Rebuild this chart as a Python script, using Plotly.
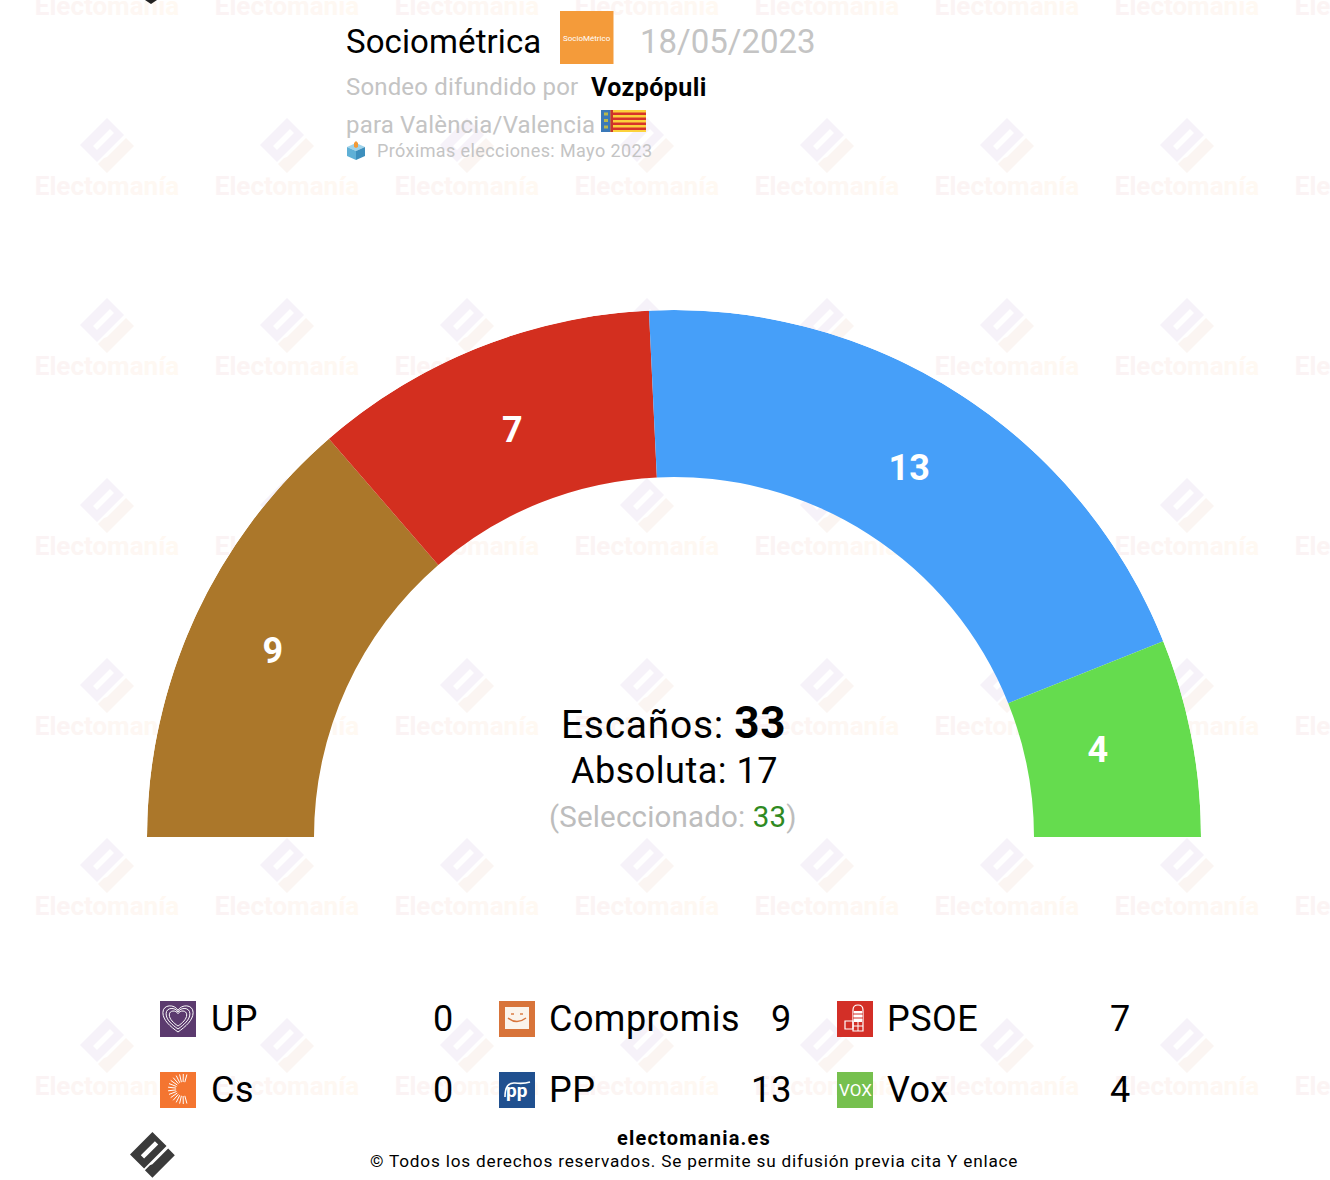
import math
import numpy as np
import plotly.graph_objects as go

# Seats per party
parties = ["UP", "Compromis", "PSOE", "Cs", "PP", "Vox"]
seats = [0, 9, 7, 0, 13, 4]
colors = ["#5b3a6e", "#ab772a", "#d32f1f", "#f47530", "#469ff9", "#65dc4e"]
logo_colors = ["#5b3a6e", "#d8743a", "#d32f27", "#f47530", "#20508f", "#76c04e"]

pollster = "Sociométrica"
poll_date = "18/05/2023"
media = "Vozpópuli"
region = "València/Valencia"
next_vote = "Próximas elecciones: Mayo 2023"
total_seats = 33
majority = 17
selected = 33

FONT = "Roboto"
R_IN = 360
R_OUT = 527
LABEL_R = [441, 435, 435, 432]
LABEL_SHIFT = [0, 0, 0, -0.3]

# Arc geometry comes from the seats
vals = np.array(seats, dtype=float)
widths = vals / vals.sum() * 180
starts = np.concatenate(([0], np.cumsum(widths)[:-1]))
mids = starts + widths / 2
shown = vals > 0

fig = go.Figure()

# Watermark text sits on a page-sized pixel axis, so it stays under the arc
def wm_text():
    word = "Electomanía"
    a, b = (251, 243, 244), (255, 249, 242)
    out = ""
    for i, ch in enumerate(word):
        t = i / (len(word) - 1)
        c = tuple(round(a[k] + (b[k] - a[k]) * t) for k in range(3))
        out += f'<span style="color:rgb{c}">{ch}</span>'
    return out

wm_x, wm_y = [], []
for row in range(7):
    for col in range(8):
        wm_x.append(107 + 180 * col)
        wm_y.append(8 + 180 * row)

fig.add_trace(go.Scatter(x=wm_x, y=wm_y, mode="text", text=[wm_text()] * len(wm_x),
                         textposition="middle center",
                         textfont=dict(family=FONT, size=26, weight="bold", color="#fbf3f0"),
                         hoverinfo="skip", showlegend=False))

fig.add_trace(go.Barpolar(r=vals[shown] * 0 + (R_OUT - R_IN), base=R_IN,
                          theta=mids[shown], width=widths[shown],
                          marker=dict(color=np.array(colors)[shown].tolist(), line_width=0),
                          hoverinfo="skip", showlegend=False))

fig.add_trace(go.Scatterpolar(r=LABEL_R, theta=mids[shown] + np.array(LABEL_SHIFT),
                              mode="text", text=[str(int(v)) for v in vals[shown]],
                              textposition="middle center",
                              textfont=dict(family=FONT, size=36, color="white", weight="bold"),
                              hoverinfo="skip", showlegend=False))

shapes = []

def poly(pts, fill, layer="above"):
    d = "M" + " L".join(f"{x:.2f},{y:.2f}" for x, y in pts) + " Z"
    shapes.append(dict(type="path", path=d, xref="x", yref="y", layer=layer,
                       fillcolor=fill, line_width=0))

def rect(x0, y0, x1, y1, fill, layer="above"):
    shapes.append(dict(type="rect", x0=x0, y0=y0, x1=x1, y1=y1, xref="x", yref="y",
                       layer=layer, fillcolor=fill, line_width=0))

def stroke(d, color="white", w=1.2):
    shapes.append(dict(type="path", path=d, xref="x", yref="y", layer="above",
                       line=dict(color=color, width=w)))

# Electomania logo, drawn from one outline
DIAMOND = [(107, 118), (124, 135), (97, 162), (80, 145)]
SLOT = [(110, 129), (93, 146), (97, 150), (114, 133)]
CHECK = [(98, 164), (107, 173), (134, 146), (126, 138), (107, 157), (104, 158)]

def logo(ox, oy, k, c1, c2, layer):
    def tr(pts):
        return [(ox + (x - 80) * k, oy + (y - 118) * k) for x, y in pts]
    d = "M" + " L".join(f"{x:.2f},{y:.2f}" for x, y in tr(DIAMOND)) + " Z "
    d += "M" + " L".join(f"{x:.2f},{y:.2f}" for x, y in tr(SLOT[::-1])) + " Z"
    shapes.append(dict(type="path", path=d, xref="x", yref="y", layer=layer,
                       fillcolor=c1, line_width=0))
    poly(tr(CHECK), c2, layer)

for row in range(6):
    for col in range(7):
        logo(80 + 180 * col, 118 + 180 * row, 1, "#f6f2f9", "#fbf5f2", "below")

logo(130, 1132, 0.83, "#3b3b3b", "#3b3b3b", "above")
poly([(145, 0), (157, 0), (151, 4)], "#222222")

# Pollster logo
rect(560, 11, 613.5, 64, "#f49b3a")

# Regional flag
rect(601, 110, 646, 132, "#fcd23c")
for y in [112.5, 117.5, 122.5, 127.5]:
    rect(613, y, 646, y + 2.6, "#d7342a")
rect(601, 110, 610.5, 132, "#3a78b8")
rect(610.5, 110, 613, 132, "#c9372c")
for y in [114, 120.5, 127]:
    rect(604, y - 1.5, 608, y + 1.5, "#b9b84a")

# Ballot box
poly([(347, 147), (356, 143), (365, 147), (356, 151)], "#9fd3ea")
poly([(347, 147), (356, 151), (356, 160), (347, 156)], "#5fb0d6")
poly([(356, 151), (365, 147), (365, 156), (356, 160)], "#3d8fbd")
poly([(354, 147), (354, 143), (356, 141), (358, 143), (358, 147), (356, 148)], "#f29a38")

# Party squares
COL_ICON = [160, 499, 837]
ROW_ICON = [1001, 1072]
for i in range(len(parties)):
    x0, y0 = COL_ICON[i % 3], ROW_ICON[i // 3]
    rect(x0, y0, x0 + 36, y0 + 36, logo_colors[i])

# UP heart
for s in [0.62, 0.85, 1.08]:
    cx, cy = 178, 1018
    stroke(f"M{cx},{cy + 13 * s:.1f} C{cx - 7 * s:.1f},{cy + 8 * s:.1f} {cx - 14 * s:.1f},{cy + 2 * s:.1f} "
           f"{cx - 14 * s:.1f},{cy - 5 * s:.1f} C{cx - 14 * s:.1f},{cy - 13 * s:.1f} {cx - 3 * s:.1f},{cy - 13 * s:.1f} "
           f"{cx},{cy - 7 * s:.1f} C{cx + 3 * s:.1f},{cy - 13 * s:.1f} {cx + 14 * s:.1f},{cy - 13 * s:.1f} "
           f"{cx + 14 * s:.1f},{cy - 5 * s:.1f} C{cx + 14 * s:.1f},{cy + 2 * s:.1f} {cx + 7 * s:.1f},{cy + 8 * s:.1f} "
           f"{cx},{cy + 13 * s:.1f} Z", w=1)

# Compromis smile
rect(505, 1007, 529, 1029, "#fbf4ec")
stroke("M508,1018 Q517,1025 526,1018", "#d8743a", 1.4)
stroke("M511,1014 L514,1014", "#d8743a", 1.4)
stroke("M520,1014 L523,1014", "#d8743a", 1.4)

# PSOE fist and rose
stroke("M853,1010 Q853,1005 858,1005 Q863,1005 863,1010 L863,1031 L853,1031 Z", "white", 1.2)
rect(854, 1011, 862, 1022, "white")
for y in [1014, 1018, 1026]:
    stroke(f"M853,{y} L863,{y}", "#d32f27" if y < 1020 else "white", 1)
stroke("M858,1022 L858,1031", "white", 1)
stroke("M845,1021 L853,1021 L853,1029 L845,1029 Z", "white", 1.2)

# Cs spokes
for a in range(75, 290, 14):
    r = math.radians(a)
    stroke(f"M{183 + 7 * math.cos(r):.1f},{1089 - 7 * math.sin(r):.1f} "
           f"L{183 + 15 * math.cos(r):.1f},{1089 - 15 * math.sin(r):.1f}", "white", 1)

# PP arc
stroke("M505,1097 Q505,1082 515,1083 Q524,1084 530,1082", "white", 1.6)

anns = []

def text(x, y, s, size, color="black", anchor="left", spacing=0):
    if spacing:
        s = f'<span style="letter-spacing:{spacing}px">{s}</span>'
    anns.append(dict(x=x, y=y, xref="x", yref="y", text=s, showarrow=False,
                     xanchor=anchor, yanchor="middle", align=anchor,
                     font=dict(family=FONT, size=size, color=color), borderpad=0, borderwidth=0))

GREY = "#c4c4c4"
text(345.5, 41, pollster, 33, spacing=0.1)
text(586.5, 38, "SocioMétrico", 8, "white", "center")
text(640, 41, poll_date, 33, GREY)
text(345.5, 87, "Sondeo difundido por", 24, GREY, spacing=0.16)
text(590.5, 87, f"<b>{media}</b>", 25, spacing=0.45)
text(345.5, 125, f"para {region}", 24, GREY, spacing=0.18)
text(377, 150, next_vote, 18, GREY, spacing=0.4)

text(673.5, 723, f'Escaños: <b><span style="font-size:44px">{total_seats}</span></b>', 39, anchor="center", spacing=0.7)
text(674, 771, f"Absoluta: {majority}", 36, anchor="center", spacing=0.5)
text(673, 817, f'(Seleccionado: <span style="color:#2f8a22">{selected}</span>)', 29.5, "#bdbdbd", "center", spacing=0.17)

COL_NAME = [210.5, 548.5, 887]
COL_VAL = [453, 791, 1130]
ROW_Y = [1019, 1090]
for i, (name, v) in enumerate(zip(parties, seats)):
    text(COL_NAME[i % 3], ROW_Y[i // 3], name, 36, spacing=0.45)
    text(COL_VAL[i % 3], ROW_Y[i // 3], str(v), 36, anchor="right")

text(528, 1090, "<b>pp</b>", 19, "white", "right")
text(855, 1090, "VOX", 17, "white", "center")

text(693.5, 1138, "<b>electomania.es</b>", 20, anchor="center", spacing=1.2)
text(693.5, 1161, "© Todos los derechos reservados. Se permite su difusión previa cita Y enlace", 17.2, anchor="center", spacing=0.8)

W, H = 1330, 1180
CY = 837
fig.update_layout(
    width=W, height=H, margin=dict(l=0, r=0, t=0, b=0, pad=0),
    paper_bgcolor="white", plot_bgcolor="rgba(0,0,0,0)", showlegend=False,
    font=dict(family=FONT),
    xaxis=dict(range=[0, W], visible=False, domain=[0, 1], fixedrange=True),
    yaxis=dict(range=[H, 0], visible=False, domain=[0, 1], fixedrange=True),
    polar=dict(
        domain=dict(x=[(674 - R_OUT) / W, (674 + R_OUT) / W],
                    y=[(H - CY) / H, (H - CY + R_OUT) / H]),
        sector=[0, 180], hole=0, bgcolor="rgba(0,0,0,0)",
        radialaxis=dict(range=[0, R_OUT], visible=False),
        angularaxis=dict(thetaunit="degrees", direction="clockwise", rotation=180, visible=False),
    ),
    shapes=shapes, annotations=anns,
)

fig.write_html("out.html", config={"displayModeBar": False},
               post_script="document.body.style.margin='0';")
